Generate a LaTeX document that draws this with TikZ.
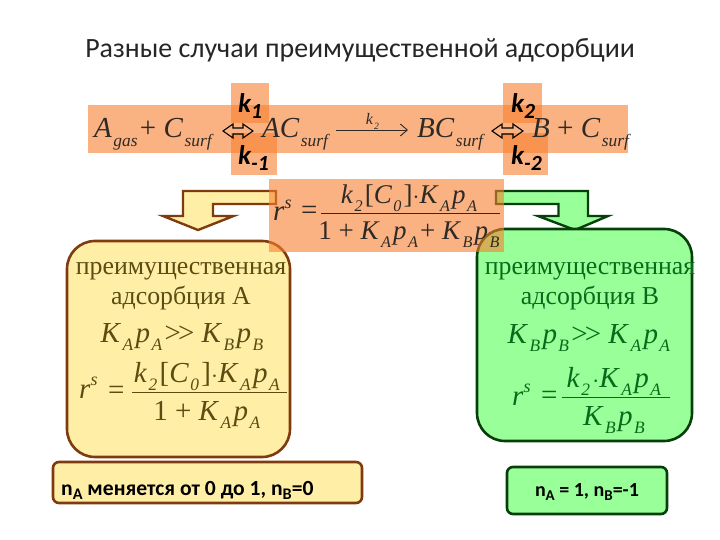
\documentclass[tikz,border=0pt]{standalone}
\usetikzlibrary{arrows.meta}
\usepackage{graphicx}
\usepackage{fontspec}
\setmainfont{Liberation Serif}
\newfontfamily\carl{Carlito}
\newcommand\Vv[1]{\textit{#1}}
\newcommand\Sb[1]{\kern.05em\raisebox{-.28em}{\scalebox{.6}{\textit{#1}}}\kern.08em}
\newcommand\Sp[1]{\raisebox{.42em}{\scalebox{.62}{\textit{#1}}}}
\newcommand\Gg{{>}\kern-.1em{>}}
\definecolor{bandc}{HTML}{F9802F}
\definecolor{yfill}{HTML}{FFEFA6}
\definecolor{ybord}{HTML}{7F3A0E}
\definecolor{gfill}{HTML}{99FF99}
\definecolor{gbord}{HTML}{063F0A}
\definecolor{ytext}{HTML}{5A4C12}
\definecolor{gtext}{HTML}{0B6A1A}
\definecolor{mtext}{HTML}{2E2A26}
\tikzset{
  band/.style={fill=bandc,fill opacity=.6,draw=none},
  ybox/.style={draw=ybord,line width=2.6pt,fill=yfill,rounded corners=28pt},
  ysmall/.style={draw=ybord,line width=2.6pt,fill=yfill,rounded corners=6pt},
  gbox/.style={draw=gbord,line width=2.6pt,fill=gfill,rounded corners=28pt},
  gsmall/.style={draw=gbord,line width=2.6pt,fill=gfill,rounded corners=6pt},
  yarrow/.style={draw=ybord,line width=2.4pt,fill=yfill,line join=miter},
  garrow/.style={draw=gbord,line width=2.4pt,fill=gfill,line join=miter},
  title/.style={font=\carl\fontsize{27.9}{32}\selectfont,text=black!85,inner sep=0pt},
  eq/.style={font=\fontsize{29}{32}\selectfont,text=mtext,inner sep=0pt},
  eqc/.style={font=\fontsize{27}{30}\selectfont,text=mtext,inner sep=0pt},
  eqs/.style={font=\fontsize{29}{32}\selectfont,inner sep=0pt},
  kk/.style={font=\carl\bfseries\fontsize{27}{30}\selectfont,text=black,inner sep=0pt},
  lab/.style={font=\fontsize{25.8}{30}\selectfont,inner sep=0pt},
  nlab/.style={font=\carl\bfseries\fontsize{21.6}{24}\selectfont,text=black,inner sep=0pt},
  hollow/.style={draw=black,line width=1.1pt,fill=none},
  thinl/.style={line width=.9pt}
}
\begin{document}
\begin{tikzpicture}[x=1pt,y=-1pt]
\useasboundingbox (0,0) rectangle (720,540);
\fill[white] (0,0) rectangle (720,540);
% title
\node[title,anchor=base] (title) at (360,58) {Разные случаи преимущественной адсорбции};
% arrows
\draw[yarrow] (276,191) -- (183,191) -- (183,216) -- (163,216) -- (198,230) -- (233.5,216) -- (213,216) -- (213,204) -- (276,204) -- cycle;
\draw[garrow] (496,191) -- (588,191) -- (588,216) -- (608,216) -- (575,230) -- (538,216) -- (558.5,216) -- (558.5,204) -- (496,204) -- cycle;
% large boxes
\draw[ybox] (67,241) rectangle (290,457);
\draw[gbox] (477,229) rectangle (692,441);
\draw[ysmall] (53,462) rectangle (362,503);
\draw[gsmall] (507,467) rectangle (667,514);
% orange panels
\path[band] (88,105) rectangle (628,153);
\path[band] (231,83) rectangle (269,123);
\path[band] (231,133) rectangle (277,175);
\path[band] (503,83) rectangle (542,123);
\path[band] (503,133) rectangle (548,175);
\path[band] (269,179) rectangle (504,252);
% reaction
\node[eq,anchor=base west] (r1) at (94,138) {\Vv{A}\Sb{gas} + \Vv{C}\Sb{surf}};
\node[eq,anchor=base west] (r2) at (262,138) {\Vv{AC}\Sb{surf}};
\node[eq,anchor=base west] (r3) at (417,138) {\Vv{BC}\Sb{surf}};
\node[eq,anchor=base west] (r4) at (532,138) {\Vv{B} + \Vv{C}\Sb{surf}};
\draw[hollow] (223,131) -- (233,124) -- (233,128) -- (243,128) -- (243,124) -- (253,131) -- (243,138) -- (243,134) -- (233,134) -- (233,138) -- cycle;
\draw[hollow] (492,131) -- (502,124) -- (502,128) -- (513,128) -- (513,124) -- (523,131) -- (513,138) -- (513,134) -- (502,134) -- (502,138) -- cycle;
\coordinate (as) at (336,130);
\coordinate (ae) at (408,130);
\draw[-{Straight Barb[length=7pt,width=12pt]},line width=.9pt,mtext] (as) -- (ae);
\node[font=\fontsize{16}{18}\selectfont,text=mtext,inner sep=0pt,anchor=base] (k0) at (373,125) {\Vv{k}\Sb{2}};
\node[kk,anchor=base west] (k1) at (238,113) {\textit{k\raisebox{-.2em}{\scalebox{.8}{1}}}};
\node[kk,anchor=base west] (km1) at (238,165) {\textit{k\raisebox{-.2em}{\scalebox{.8}{-1}}}};
\node[kk,anchor=base west] (k2) at (511,113) {\textit{k\raisebox{-.2em}{\scalebox{.8}{2}}}};
\node[kk,anchor=base west] (km2) at (511,165) {\textit{k\raisebox{-.2em}{\scalebox{.8}{-2}}}};
% central formula
\node[eq,anchor=base west] (c1) at (273,221) {\Vv{r}\Sp{s}};
\node[eq,anchor=base west] (c2) at (301,220) {=};
\draw[thinl,mtext] (321,213) -- (500,213);
\node[eqc,anchor=base] (c3) at (410,204) {\Vv{k}\Sb{2}[\Vv{C}\Sb{0}]$\cdot$\Vv{K}\Sb{A}\Vv{p}\Sb{A}};
\node[eqc,anchor=base] (c4) at (410,240) {1 + \Vv{K}\Sb{A}\Vv{p}\Sb{A} + \Vv{K}\Sb{B}\Vv{p}\Sb{B}};
% left box
\node[lab,text=ytext,anchor=base] (l1) at (181,274) {преимущественная};
\node[lab,text=ytext,anchor=base] (l2) at (181,304) {адсорбция А};
\node[eqs,text=ytext,anchor=base] (l3) at (183,342) {\Vv{K}\Sb{A}\Vv{p}\Sb{A} \Gg{} \Vv{K}\Sb{B}\Vv{p}\Sb{B}};
\node[eqs,text=ytext,anchor=base west] (l4) at (79,398) {\Vv{r}\Sp{s}};
\node[eqs,text=ytext,anchor=base west] (l5) at (108,399) {=};
\draw[thinl,ytext] (132,392) -- (287,392);
\node[eqs,text=ytext,anchor=base] (l6) at (208,382) {\Vv{k}\Sb{2}[\Vv{C}\Sb{0}]$\cdot$\Vv{K}\Sb{A}\Vv{p}\Sb{A}};
\node[eqs,text=ytext,anchor=base] (l7) at (208,420) {1 + \Vv{K}\Sb{A}\Vv{p}\Sb{A}};
% right box
\node[lab,text=gtext,anchor=base] (g1) at (590,274) {преимущественная};
\node[lab,text=gtext,anchor=base] (g2) at (590,304) {адсорбция В};
\node[eqs,text=gtext,anchor=base] (g3) at (590,343) {\Vv{K}\Sb{B}\Vv{p}\Sb{B} \Gg{} \Vv{K}\Sb{A}\Vv{p}\Sb{A}};
\node[eqs,text=gtext,anchor=base west] (g4) at (512,405) {\Vv{r}\Sp{s}};
\node[eqs,text=gtext,anchor=base west] (g5) at (541,404) {=};
\draw[thinl,gtext] (562,397) -- (670,397);
\node[eqs,text=gtext,anchor=base] (g6) at (615,387) {\Vv{k}\Sb{2} $\cdot$\Vv{K}\Sb{A}\Vv{p}\Sb{A}};
\node[eqs,text=gtext,anchor=base] (g7) at (615,425) {\Vv{K}\Sb{B}\Vv{p}\Sb{B}};
% bottom labels
\node[nlab,anchor=base west] (n1) at (61,495) {n\raisebox{-.2em}{\scalebox{.75}{A}} меняется от 0 до 1, n\raisebox{-.2em}{\scalebox{.75}{B}}=0};
\node[nlab,anchor=base,font=\carl\bfseries\fontsize{20}{22}\selectfont] (n2) at (587,496) {n\raisebox{-.2em}{\scalebox{.75}{A}} = 1, n\raisebox{-.2em}{\scalebox{.75}{B}}=-1};
\end{tikzpicture}
\end{document}
